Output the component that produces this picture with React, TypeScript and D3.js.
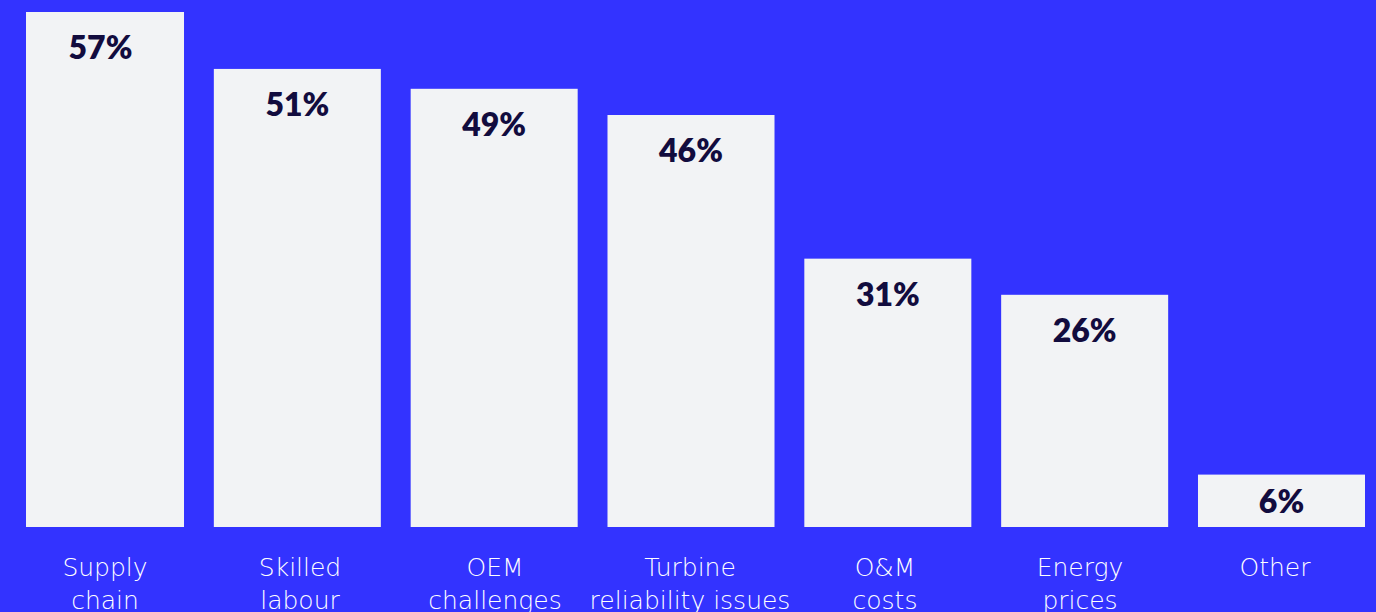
import React from "react";
import * as d3 from "d3";

const categories: string[][] = [
  ["Supply", "chain"],
  ["Skilled", "labour"],
  ["OEM", "challenges"],
  ["Turbine", "reliability issues"],
  ["O&M", "costs"],
  ["Energy", "prices"],
  ["Other"],
];
const values: number[] = [57, 50.7, 48.5, 45.6, 29.7, 25.7, 5.8];
const valueLabels: string[] = ["57%", "51%", "49%", "46%", "31%", "26%", "6%"];

const W = 1376;
const H = 612;
const BG = "#3333FF";
const BAR = "#F2F3F5";
const INK = "#120C3E";

export default function App() {
  const keys = categories.map((c) => c.join(" "));
  const x = d3.scaleBand<string>().domain(keys).range([17, 1365]).paddingInner(0.1515).paddingOuter(0);
  const xl = d3.scaleBand<string>().domain(keys).range([7.5, 1372.5]).padding(0);
  const y = d3.scaleLinear().domain([0, 57]).range([527, 12]);

  return (
    <svg
      width={W}
      height={H}
      viewBox={`0 0 ${W} ${H}`}
      style={{ position: "absolute", left: 0, top: 0, display: "block" }}
    >
      <defs>
        <clipPath id="plotClip">
          <rect x={26} y={0} width={W - 26} height={H} />
        </clipPath>
      </defs>
      <rect x={0} y={0} width={W} height={H} fill={BG} />
      <g clipPath="url(#plotClip)">
        {keys.map((k, i) => (
          <rect
            key={k}
            x={x(k)!}
            y={y(values[i])}
            width={x.bandwidth()}
            height={y(0) - y(values[i])}
            fill={BAR}
          />
        ))}
      </g>
      {keys.map((k, i) => {
        const top = y(values[i]);
        const mid = (top + y(0)) / 2 + 12;
        return (
          <text
            key={"v" + k}
            x={x(k)! + x.bandwidth() / 2}
            y={Math.min(top + 47, mid)}
            textAnchor="middle"
            fill={INK}
            fontFamily="Lato, 'Noto Sans', sans-serif"
            fontWeight={800}
            fontSize={32}
          >
            {valueLabels[i]}
          </text>
        );
      })}
      {categories.map((lines, i) => (
        <text
          key={"c" + keys[i]}
          textAnchor="middle"
          fill="#FFFFFF"
          fontFamily="'DejaVu Sans', sans-serif"
          fontWeight={200}
          fontSize={25}
        >
          {lines.map((ln, j) => (
            <tspan key={j} x={xl(keys[i])! + xl.bandwidth() / 2} y={576 + j * 33}>
              {ln}
            </tspan>
          ))}
        </text>
      ))}
    </svg>
  );
}
